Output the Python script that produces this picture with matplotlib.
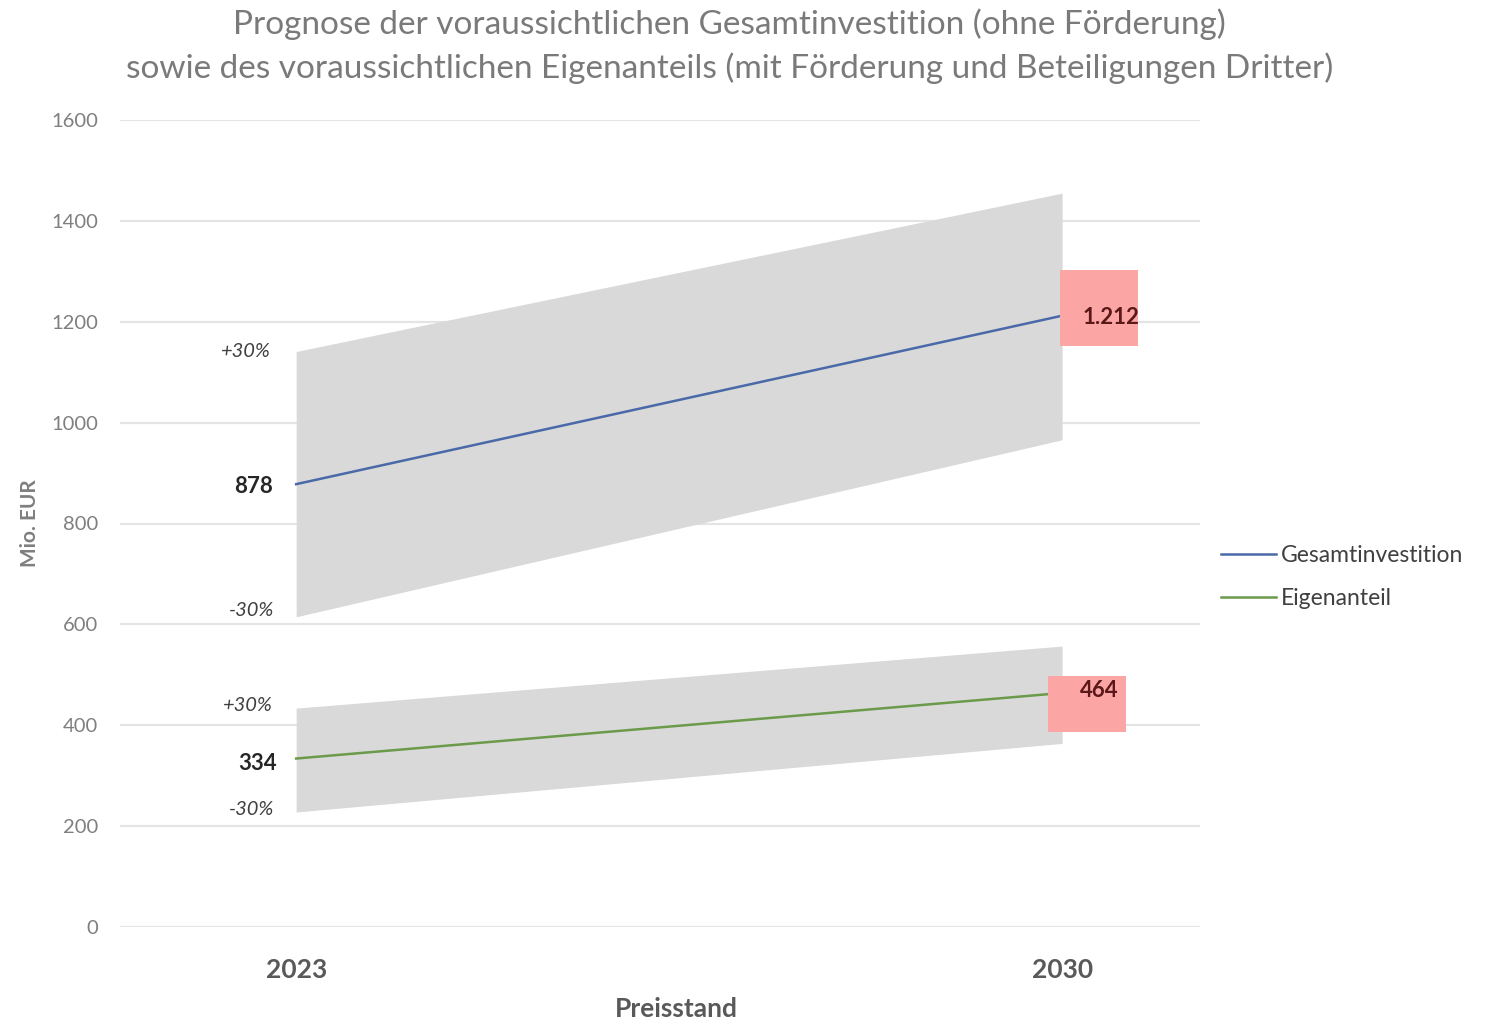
# Prognose Gesamtinvestition / Eigenanteil mit Unsicherheitsband
from matplotlib import pyplot as plt
from matplotlib.patches import Rectangle

plt.rcParams['font.family'] = ['Lato', 'DejaVu Sans']

years = ['2023', '2030']
gesamt = [878, 1212]
gesamt_oben = [1141, 1455]
gesamt_unten = [615, 966]
eigen = [334, 464]
eigen_oben = [434, 557]
eigen_unten = [228, 364]
gesamt_labels = ['878', '1.212']
eigen_labels = ['334', '464']

x = list(range(len(years)))

fig = plt.figure(figsize=(14.85, 10.25), dpi=100)
ax = fig.add_axes([120 / 1485, 1 - 927 / 1025, 1080 / 1485, 807 / 1025])

band = '#d9d9d9'
ax.fill_between(x, gesamt_unten, gesamt_oben, color=band, lw=0, zorder=1)
ax.fill_between(x, eigen_unten, eigen_oben, color=band, lw=0, zorder=1)
ax.plot(x, gesamt, color='#4a69a8', lw=1.8, label='Gesamtinvestition', zorder=3)
ax.plot(x, eigen, color='#6b9a4a', lw=1.8, label='Eigenanteil', zorder=3)

ax.set_xlim(-0.23, 1.18)
ax.set_ylim(0, 1600)
ax.set_yticks(range(0, 1601, 200))
ax.grid(axis='y', color='#e4e4e4', lw=1.6, zorder=0)
ax.set_axisbelow(True)
for s in ax.spines.values():
    s.set_visible(False)
ax.tick_params(length=0)
ax.tick_params(axis='y', labelsize=14.5, labelcolor='#7f7f7f', pad=16)
ax.set_xticks(x)
ax.set_xticklabels(years, fontsize=19, fontweight='bold', color='#595959')
ax.tick_params(axis='x', pad=22)
ax.set_xlabel('Preisstand', fontsize=19, fontweight='bold', color='#595959')
ax.xaxis.set_label_coords(0.515, -0.087)
ax.set_ylabel('Mio. EUR', fontsize=15, fontweight='bold', color='#7f7f7f', labelpad=8)

# Beschriftungen am Startjahr
lab = dict(ha='right', va='center', fontsize=14.5, color='#404040')
ax.text(-0.033, gesamt_oben[0], '+30%', style='italic', **lab)
ax.text(-0.03, gesamt[0] - 5, gesamt_labels[0], fontweight='bold', fontsize=16,
        ha='right', va='center', color='#262626')
ax.text(-0.028, gesamt_unten[0] + 12, '-30%', style='italic', **lab)
ax.text(-0.03, eigen_oben[0] + 5, '+30%', style='italic', **lab)
ax.text(-0.025, eigen[0] - 10, eigen_labels[0], fontweight='bold', fontsize=16,
        ha='right', va='center', color='#262626')
ax.text(-0.028, eigen_unten[0] + 5, '-30%', style='italic', **lab)

# rote Kästen am Zieljahr
ax.add_patch(Rectangle((x[1] - 0.003, gesamt[1] - 60), 0.102, 151,
                       color='#fca5a5', lw=0, zorder=4))
ax.add_patch(Rectangle((x[1] - 0.018, eigen[1] - 77), 0.102, 111,
                       color='#fca5a5', lw=0, zorder=4))
ax.text(x[1] + 0.064, gesamt[1] - 3, gesamt_labels[1], fontsize=16, fontweight='bold',
        color='#5a1818', ha='center', va='center', zorder=5)
ax.text(x[1] + 0.048, eigen[1] + 5, eigen_labels[1], fontsize=16, fontweight='bold',
        color='#5a1818', ha='center', va='center', zorder=5)

fig.legend(loc='center left', bbox_to_anchor=(1200 / 1485, 1 - 577 / 1025),
           frameon=False, fontsize=16.5, handlelength=2.4, handletextpad=0.25,
           labelspacing=1.0, labelcolor='#404040')

fig.text(0.491, 1 - 24 / 1025, 'Prognose der voraussichtlichen Gesamtinvestition (ohne Förderung)',
         ha='center', va='center', fontsize=24, color='#7a7a7a')
fig.text(0.491, 1 - 68 / 1025, 'sowie des voraussichtlichen Eigenanteils (mit Förderung und Beteiligungen Dritter)',
         ha='center', va='center', fontsize=24, color='#7a7a7a')

plt.savefig('out.png', dpi=100)
